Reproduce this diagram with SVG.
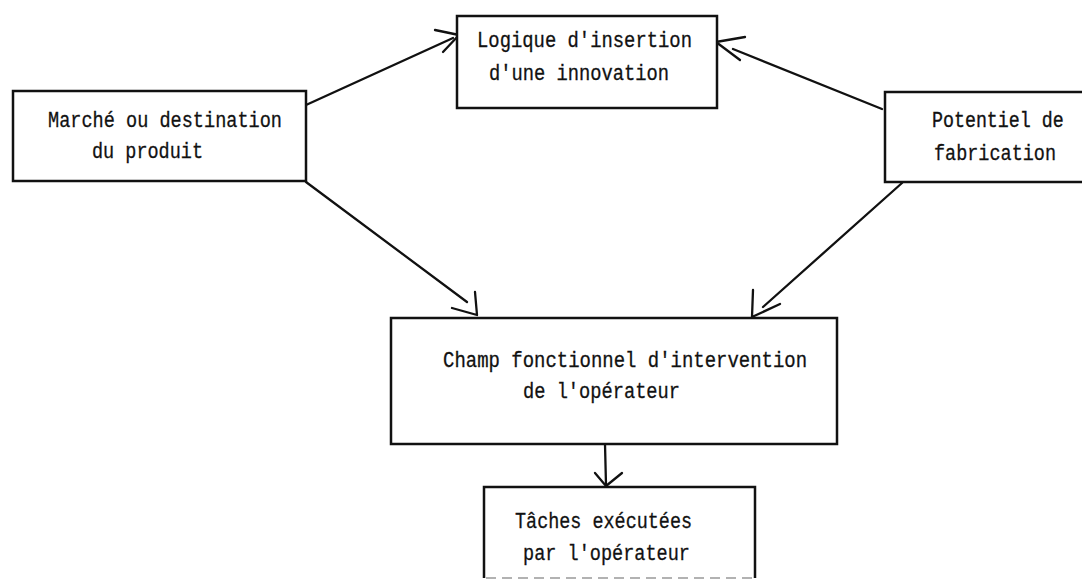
<svg xmlns="http://www.w3.org/2000/svg" width="1082" height="580" viewBox="0 0 1082 580">
<style>
.box{fill:#fff;stroke:#111;stroke-width:2.5}
.t{font-family:"Liberation Mono","DejaVu Sans Mono",monospace;font-size:22px;fill:#111;stroke:#111;stroke-width:0.3}
.c{fill:none;stroke:#111;stroke-width:2.3;stroke-linecap:round;stroke-linejoin:round}
</style>
<rect width="1082" height="580" fill="#fff"/>
<g id="connectors">
  <path class="c" d="M306,105 L453,38"/>
  <path class="c" d="M435,30 L459,35 L443,52"/>
  <path class="c" d="M882,109 L733,49"/>
  <path class="c" d="M745,37 L716,42 L740,60"/>
  <path class="c" d="M306,182 L467,302"/>
  <path class="c" d="M475,292 L477,315 L452,308"/>
  <path class="c" d="M902,183 L763,307"/>
  <path class="c" d="M753,290 L752,317 L780,304"/>
  <path class="c" d="M605,444 L606,485"/>
  <path class="c" d="M595,473 L606,486 L622,473"/>
</g>
<g id="marche">
  <rect class="box" x="13" y="91" width="293" height="90"/>
  <text class="t" x="48" y="127" textLength="234" lengthAdjust="spacingAndGlyphs">Marché ou destination</text>
  <text class="t" x="92" y="158" textLength="111" lengthAdjust="spacingAndGlyphs">du produit</text>
</g>
<g id="logique">
  <rect class="box" x="457" y="16" width="260" height="92"/>
  <text class="t" x="477" y="47" textLength="215" lengthAdjust="spacingAndGlyphs">Logique d'insertion</text>
  <text class="t" x="489" y="80" textLength="180" lengthAdjust="spacingAndGlyphs">d'une innovation</text>
</g>
<g id="potentiel">
  <path class="box" d="M1082,92 L885,92 L885,182 L1082,182"/>
  <text class="t" x="0" y="0" style="font-size:18.3px" transform="translate(932,127) scale(1,1.18)">Potentiel de</text>
  <text class="t" x="934" y="160" textLength="122" lengthAdjust="spacingAndGlyphs">fabrication</text>
</g>
<g id="champ">
  <rect class="box" x="391" y="318" width="446" height="126"/>
  <text class="t" x="443" y="367" textLength="364" lengthAdjust="spacingAndGlyphs">Champ fonctionnel d'intervention</text>
  <text class="t" x="523" y="398" textLength="157" lengthAdjust="spacingAndGlyphs">de l'opérateur</text>
</g>
<g id="taches">
  <path class="box" d="M484,578 L484,487 L755,487 L755,578"/>
  <path d="M486,578 L753,578" fill="none" stroke="#999" stroke-width="1.5" stroke-dasharray="10 6"/>
  <text class="t" x="515" y="528" textLength="177" lengthAdjust="spacingAndGlyphs">Tâches exécutées</text>
  <text class="t" x="523" y="560" textLength="167" lengthAdjust="spacingAndGlyphs">par l'opérateur</text>
</g>
</svg>
